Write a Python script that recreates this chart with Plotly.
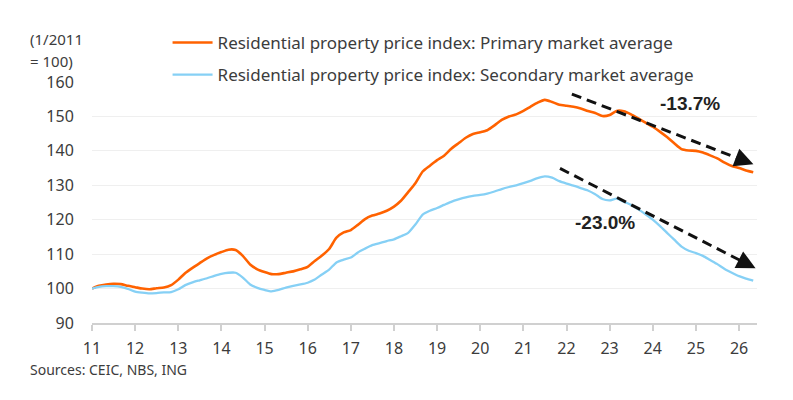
import pandas as pd
import plotly.graph_objects as go

# ---------------- data (bi-monthly readings, Jan 2011 = 100) ----------------
START = "2011-01-01"
primary = [
    100.0, 100.8, 101.2, 101.4, 101.3, 100.8, 100.4, 100.0, 99.8, 100.1,
    100.3, 101.0, 102.6, 104.5, 106.0, 107.4, 108.8, 109.8, 110.6, 111.3,
    111.2, 109.5, 107.0, 105.6, 104.8, 104.2, 104.2, 104.6, 105.0, 105.6,
    106.3, 108.0, 109.6, 111.5, 114.8, 116.3, 117.0, 118.5, 120.2, 121.2,
    121.8, 122.6, 123.8, 125.5, 128.0, 130.6, 134.0, 135.7, 137.3, 138.6,
    140.6, 142.2, 143.8, 144.9, 145.4, 146.0, 147.4, 149.0, 150.0, 150.6,
    151.6, 152.8, 154.0, 154.8, 154.2, 153.4, 153.1, 152.8, 152.3, 151.6,
    151.0, 150.1, 150.4, 151.6, 151.5, 150.6, 149.4, 148.2, 147.0, 145.6,
    144.0, 142.2, 140.5, 140.1, 140.0, 139.5, 138.7, 137.8, 136.6, 135.6,
    135.0, 134.3, 133.8,
]
secondary = [
    100.0, 100.5, 100.7, 100.7, 100.5, 99.9, 99.1, 98.8, 98.6, 98.7,
    98.9, 99.0, 99.8, 101.0, 101.8, 102.4, 103.0, 103.7, 104.3, 104.6,
    104.6, 103.2, 101.2, 100.2, 99.6, 99.2, 99.6, 100.3, 100.8, 101.2,
    101.7, 102.6, 104.1, 105.5, 107.6, 108.4, 109.0, 110.5, 111.6, 112.6,
    113.2, 113.8, 114.3, 115.2, 116.2, 118.6, 121.5, 122.6, 123.4, 124.3,
    125.2, 125.9, 126.5, 126.9, 127.2, 127.6, 128.2, 128.9, 129.5, 130.0,
    130.6, 131.3, 132.1, 132.6, 132.2, 131.2, 130.5, 129.9, 129.2, 128.5,
    127.4, 126.0, 125.6, 126.1, 125.2, 124.3, 123.0, 121.6, 120.0, 118.2,
    116.2, 114.2, 112.2, 111.0, 110.3, 109.5, 108.3, 107.1, 105.7, 104.6,
    103.6, 102.9, 102.3,
]
dates = pd.date_range(START, periods=len(primary), freq="2MS")

series_names = [
    "Residential property price index: Primary market average",
    "Residential property price index: Secondary market average",
]
y_ticks = [90, 100, 110, 120, 130, 140, 150, 160]
change_labels = ["-13.7%", "-23.0%"]

# ---------------- annotation geometry (month offsets from Jan 2011) ----------------
arrow_primary = [(133.5, 156.5), (184.0, 136.1)]
arrow_secondary = [(130.2, 134.9), (184.6, 105.9)]
label_pos = [(166.4, 153.9), (142.7, 119.3)]
X_END_MONTH = 185.0

base = pd.Timestamp(START)


def m2d(m):
    return (base + pd.Timedelta(days=m * 30.4375)).strftime("%Y-%m-%d %H:%M")


ORANGE = "#FF6200"
BLUE = "#86D0F5"
TXT = "#3c3c3c"
FONT = "Noto Sans"

fig = go.Figure()
fig.add_trace(go.Scatter(x=dates, y=primary, mode="lines", name=series_names[0],
                         line=dict(color=ORANGE, width=2.6, shape="spline", smoothing=0.6),
                         legendgroup="a"))
fig.add_trace(go.Scatter(x=dates, y=secondary, mode="lines", name=series_names[1],
                         line=dict(color=BLUE, width=2.3, shape="spline", smoothing=0.6),
                         legendgroup="b"))

annotations = []
shapes = []
for (p0, p1) in (arrow_primary, arrow_secondary):
    (m0, v0), (m1, v1) = p0, p1
    f = 0.92
    mb = m0 + (m1 - m0) * f
    vb = v0 + (v1 - v0) * f
    shapes.append(dict(type="line", xref="x", yref="y", x0=m2d(m0), y0=v0, x1=m2d(mb), y1=vb,
                       line=dict(color="#111111", width=3, dash="10px,6px"), layer="above"))
    annotations.append(dict(x=m2d(m1), y=v1, ax=m2d(mb), ay=vb, axref="x", ayref="y",
                            xref="x", yref="y", text="", showarrow=True,
                            arrowhead=2, arrowsize=1.25, arrowwidth=3, arrowcolor="#111111"))

for txt, (m, v) in zip(change_labels, label_pos):
    annotations.append(dict(x=m2d(m), y=v, xref="x", yref="y", text=f"<b>{txt}</b>",
                            showarrow=False, font=dict(family="Liberation Sans, Arial", size=19,
                                                       color="#222222")))

annotations += [
    dict(x=-0.0958, y=1.178, xref="paper", yref="paper", text="(1/2011", showarrow=False,
         xanchor="left", yanchor="middle", font=dict(family=FONT, size=15, color=TXT)),
    dict(x=-0.0958, y=1.087, xref="paper", yref="paper", text="= 100)", showarrow=False,
         xanchor="left", yanchor="middle", font=dict(family=FONT, size=15, color=TXT)),
    dict(x=-0.0958, y=-0.1935, xref="paper", yref="paper", text="Sources: CEIC, NBS, ING",
         showarrow=False, xanchor="left", yanchor="middle",
         font=dict(family=FONT, size=14, color=TXT)),
]

fig.update_layout(
    width=793, height=400,
    margin=dict(l=92, r=36, t=82, b=77, autoexpand=False),
    paper_bgcolor="white", plot_bgcolor="white",
    font=dict(family=FONT, color=TXT),
    showlegend=True,
    legend=dict(xref="container", yref="container", x=0.2113, y=0.9375, xanchor="left",
                yanchor="top", bgcolor="rgba(0,0,0,0)", font=dict(family=FONT, size=17, color=TXT),
                tracegroupgap=7, itemwidth=40),
    annotations=annotations,
    shapes=shapes,
    xaxis=dict(type="date", range=[START, m2d(X_END_MONTH)], tick0=START, dtick="M12",
               tickformat="%y", showgrid=False, zeroline=False,
               showline=True, linecolor="#d0d0d0", linewidth=1.5,
               ticks="outside", ticklen=6, tickcolor="#d0d0d0", tickwidth=1.5,
               ticklabelstandoff=4,
               tickfont=dict(family=FONT, size=16, color=TXT)),
    yaxis=dict(range=[90, 160], tickvals=y_ticks, showgrid=True, gridcolor="#efefef",
               gridwidth=1, zeroline=False, showline=False,
               ticks="outside", ticklen=14, tickcolor="rgba(0,0,0,0)",
               tickfont=dict(family=FONT, size=16, color=TXT)),
)

fig.write_html("out.html")
